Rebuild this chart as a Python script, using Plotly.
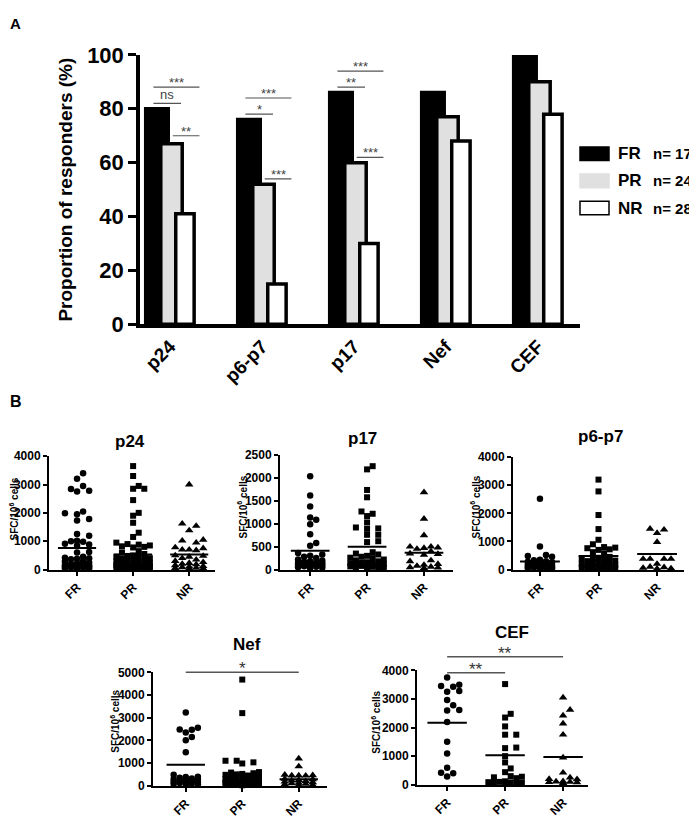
import numpy as np
import plotly.graph_objects as go

# page geometry: the browser body has an 8px margin, so the figure is offset by 8px
OX, OY = 8, 8
W, H = 688, 813
FONT = "Liberation Sans, Arial, Helvetica, sans-serif"

# ---------------- Panel A data ----------------
antigens = ["p24", "p6-p7", "p17", "Nef", "CEF"]
fr_pct = [80, 76, 86, 86, 100]
pr_pct = [67, 52, 60, 77, 90]
nr_pct = [41, 15, 30, 68, 78]
group_names = ["FR", "PR", "NR"]
group_n = [17, 24, 28]

# significance brackets in panel A
sigA_cat = [0, 0, 0, 1, 1, 1, 2, 2, 2]
sigA_g1 = [0, 0, 1, 0, 0, 1, 0, 0, 1]
sigA_g2 = [2, 1, 2, 2, 1, 2, 2, 1, 2]
sigA_y = [88, 82, 70, 84, 78, 54, 94, 88, 62]
sigA_lab = ["***", "ns", "**", "***", "*", "***", "***", "**", "***"]

# ---------------- Panel B data (SFC/10^6 cells) ----------------
p24_fr = [3400, 3200, 2950, 2840, 2780, 2750, 2050, 1990, 1950, 1780, 1730, 1250, 1190,
          1020, 1000, 980, 910, 880, 850, 620, 600, 450, 420, 400, 380, 360, 300, 280, 250,
          220, 200, 180, 160, 150, 130, 120, 110, 100, 90, 80, 70, 60, 50, 40, 30]
p24_pr = [3650, 3300, 2950, 2850, 2850, 2450, 2000, 1900, 1650, 1300, 1150, 950, 900, 880,
          850, 820, 800, 780, 650, 600, 550, 500, 480, 450, 420, 400, 380, 350, 320, 300,
          280, 260, 240, 220, 200, 180, 160, 150, 140, 120, 110, 100, 90, 80, 70, 60, 50,
          40, 30, 20]
p24_nr = [3000, 1620, 1540, 1380, 1050, 1020, 950, 780, 750, 700, 700, 680, 500, 480, 450,
          400, 350, 300, 260, 230, 200, 180, 150, 120, 100, 80, 60, 50, 40, 30]
p24_mean = [760, 534, 534]

p17_fr = [2040, 1620, 1380, 1140, 1090, 990, 770, 580, 520, 360, 330, 300, 280, 250, 220,
          200, 180, 170, 160, 150, 140, 130, 120, 110, 100, 90, 80, 70, 60, 50, 40, 30]
p17_pr = [2260, 2190, 1740, 1580, 1270, 1220, 1170, 1030, 920, 900, 890, 760, 760, 620, 600,
          380, 350, 330, 300, 280, 260, 250, 220, 200, 180, 160, 150, 140, 130, 120, 110,
          100, 90, 80, 70, 60, 50, 40, 30, 20]
p17_nr = [1690, 1110, 750, 500, 500, 480, 470, 450, 400, 350, 340, 320, 200, 180, 120, 100,
          80, 60, 50, 40, 30]
p17_mean = [411, 496, 368]

p6p7_fr = [2520, 820, 520, 480, 460, 350, 330, 300, 280, 260, 240, 220, 200, 180, 160, 150,
           130, 120, 100, 90, 80, 70, 60, 50, 40, 30]
p6p7_pr = [3200, 2780, 1940, 1440, 1060, 900, 800, 780, 760, 720, 700, 620, 580, 450, 420,
           400, 380, 350, 320, 300, 280, 250, 220, 200, 180, 160, 140, 120, 100, 90, 80, 70,
           60, 50, 40, 30]
p6p7_nr = [1450, 1420, 1300, 980, 380, 380, 380, 380, 200, 100, 80, 60, 40, 30]
p6p7_mean = [287, 483, 552]

nef_fr = [3230, 2560, 2480, 2470, 2350, 2150, 2000, 1470, 480, 400, 380, 350, 320, 300, 280,
          250, 220, 200, 180, 160, 140, 120, 100, 80, 60, 40]
nef_pr = [4680, 3200, 1100, 1100, 1030, 980, 600, 580, 550, 520, 500, 480, 450, 420, 400, 380,
          350, 330, 300, 280, 260, 240, 220, 200, 180, 160, 150, 140, 120, 100, 90, 80, 70,
          60, 50, 40, 30, 20]
nef_nr = [1200, 850, 480, 460, 450, 450, 440, 300, 280, 250, 230, 200, 180, 150, 120, 100, 80,
          60, 40, 30]
nef_mean = [923, 497, 284]

cef_fr = [3750, 3500, 3450, 3430, 3280, 3250, 2960, 2780, 2610, 2600, 2190, 1500, 1090, 590,
          420, 400, 290]
cef_pr = [3520, 2480, 2350, 2040, 1750, 1750, 1300, 1280, 1000, 780, 570, 440, 300, 280, 260,
          230, 120, 100, 90, 80, 70, 60, 50, 40]
cef_nr = [3050, 2620, 2420, 2140, 1750, 950, 420, 250, 200, 190, 120, 110, 100, 90, 80, 60]
cef_mean = [2169, 1028, 972]

# significance in panel B: (group1, group2, level, label)
nef_sig = [(0, 2, 5000, "*")]
cef_sig = [(0, 2, 4475, "**"), (0, 1, 3920, "**")]


def px2x(px):
    return (px - OX) / W


def py2y(py):
    return 1 - (py - OY) / H


fig = go.Figure()

# ---------------- Panel A ----------------
A_xpx = (140, 580)
A_ypx = (44, 322)
A_xr = (-0.326, 4.457)
bar_fill = ["black", "#e0e0e0", "white"]
bar_off = [-0.264, -0.10, 0.0625]
bar_w = [0.245, 0.233, 0.20]
cats = list(range(len(antigens)))
for vals, name, fill, off, w in zip([fr_pct, pr_pct, nr_pct], group_names, bar_fill, bar_off, bar_w):
    fig.add_trace(go.Bar(x=cats, y=vals, offset=off, width=w, name=name,
                         marker=dict(color=fill, line=dict(color="black", width=3.5)),
                         xaxis="x", yaxis="y", showlegend=False, cliponaxis=False))

shapes = []
annotations = []
start_off = [-0.18, 0.03, 0.03]
end_off = [0.0, 0.12, 0.32]
for c, g1, g2, yv, lab in zip(sigA_cat, sigA_g1, sigA_g2, sigA_y, sigA_lab):
    x0 = c + start_off[g1]
    x1 = c + end_off[g2]
    shapes.append(dict(type="line", xref="x", yref="y", x0=x0, x1=x1, y0=yv, y1=yv,
                       line=dict(color="#555555", width=1.2)))
    annotations.append(dict(xref="x", yref="y", x=(x0 + x1) / 2, y=yv, text=lab, showarrow=False,
                            xanchor="center", yanchor="bottom",
                            yshift=-5 if "*" in lab else -1,
                            font=dict(family=FONT, size=13, color="#444444")))

# legend (drawn manually)
leg_y = [146, 174, 202]
for i, (name, n) in enumerate(zip(group_names, group_n)):
    yc = leg_y[i]
    shapes.append(dict(type="rect", xref="paper", yref="paper",
                       x0=px2x(580), x1=px2x(609), y0=py2y(yc + 7), y1=py2y(yc - 7),
                       fillcolor=bar_fill[i],
                       line=dict(color="black" if i != 1 else "#e0e0e0", width=1.5)))
    annotations.append(dict(xref="paper", yref="paper", x=px2x(616), y=py2y(yc), text=name,
                            showarrow=False, xanchor="left", yanchor="middle",
                            font=dict(family=FONT, size=17, color="black", weight="bold")))
    annotations.append(dict(xref="paper", yref="paper", x=px2x(651), y=py2y(yc), text=f"n= {n}",
                            showarrow=False, xanchor="left", yanchor="middle",
                            font=dict(family=FONT, size=15, color="black", weight="bold")))

annotations.append(dict(xref="paper", yref="paper", x=px2x(66), y=py2y(183),
                        text="Proportion of responders (%)", textangle=-90, showarrow=False,
                        xanchor="center", yanchor="middle",
                        font=dict(family=FONT, size=19, color="black", weight="bold")))
annotations.append(dict(xref="paper", yref="paper", x=px2x(15), y=py2y(12), text="A",
                        showarrow=False, xanchor="center", yanchor="middle",
                        font=dict(family=FONT, size=15, color="black", weight="bold")))
annotations.append(dict(xref="paper", yref="paper", x=px2x(16), y=py2y(402), text="B",
                        showarrow=False, xanchor="center", yanchor="middle",
                        font=dict(family=FONT, size=16, color="black", weight="bold")))

layout = dict(
    xaxis=dict(domain=[px2x(A_xpx[0]), px2x(A_xpx[1])], range=list(A_xr), tickvals=cats,
               ticktext=antigens, tickangle=-45, showgrid=False, zeroline=False, showline=True,
               linewidth=3.5, linecolor="black", ticks="", anchor="y",
               tickfont=dict(family=FONT, size=19, color="black", weight="bold")),
    yaxis=dict(domain=[py2y(A_ypx[1]), py2y(A_ypx[0])], range=[0, 100], dtick=20,
               showgrid=False, zeroline=False, showline=True, linewidth=3.5, linecolor="black",
               ticks="outside", ticklen=8, tickwidth=3, tickcolor="black", anchor="x",
               tickfont=dict(family=FONT, size=22, color="black", weight="bold")),
)


# ---------------- Panel B ----------------
def swarm(vals, ppx, ppy, diam=6.4, max_px=18):
    vals = np.asarray(vals, float)
    order = np.argsort(vals)
    placed = []
    offs = np.zeros(len(vals))
    step = diam * 0.95
    cands = [0.0]
    k = 1
    while k * step <= max_px:
        cands += [k * step, -k * step]
        k += 1
    for i in order:
        y = vals[i] * ppy
        best, bestd = 0.0, -1.0
        for c in cands:
            d = min([np.hypot(c - px, y - py) for px, py in placed], default=1e9)
            if d >= diam:
                best, bestd = c, d
                break
            if d > bestd:
                best, bestd = c, d
        placed.append((best, y))
        offs[i] = best / ppx
    return offs


panels = [
    dict(title="p24", data=[p24_fr, p24_pr, p24_nr], mean=p24_mean, xpx=(49, 215), ypx=(458, 575),
         ymax=4000, dtick=1000, xr=(-0.5, 2.46), tpx=(130, 443), ytpx=(14, 513), sig=[]),
    dict(title="p17", data=[p17_fr, p17_pr, p17_nr], mean=p17_mean, xpx=(280, 453), ypx=(457, 575),
         ymax=2500, dtick=500, xr=(-0.53, 2.51), tpx=(362, 440), ytpx=(242, 511), sig=[]),
    dict(title="p6-p7", data=[p6p7_fr, p6p7_pr, p6p7_nr], mean=p6p7_mean, xpx=(513, 684),
         ypx=(459, 575), ymax=4000, dtick=1000, xr=(-0.46, 2.46), tpx=(600, 438),
         ytpx=(475, 511), sig=[]),
    dict(title="Nef", data=[nef_fr, nef_pr, nef_nr], mean=nef_mean, xpx=(153, 327), ypx=(681, 798),
         ymax=5000, dtick=1000, xr=(-0.58, 2.5), tpx=(247, 652), ytpx=(115, 732), sig=nef_sig),
    dict(title="CEF", data=[cef_fr, cef_pr, cef_nr], mean=cef_mean, xpx=(417, 588), ypx=(679, 797),
         ymax=4000, dtick=1000, xr=(-0.52, 2.43), tpx=(512, 640), ytpx=(376, 732), sig=cef_sig),
]

symbols = ["circle", "square", "triangle-up"]
msizes = [6.5, 6, 7.5]

for k, p in enumerate(panels, start=2):
    xa, ya = f"x{k}", f"y{k}"
    ppx = (p["xpx"][1] - p["xpx"][0]) / (p["xr"][1] - p["xr"][0])
    ppy = (p["ypx"][1] - p["ypx"][0]) / p["ymax"]
    for gi, vals in enumerate(p["data"]):
        offs = swarm(vals, ppx, ppy, diam=msizes[gi] * 0.98)
        fig.add_trace(go.Scatter(x=gi + offs, y=vals, mode="markers", xaxis=xa, yaxis=ya,
                                 marker=dict(symbol=symbols[gi], size=msizes[gi], color="black",
                                             line=dict(width=0)),
                                 cliponaxis=False, showlegend=False))
        m = p["mean"][gi]
        fig.add_trace(go.Scatter(x=[gi - 0.34, gi + 0.34], y=[m, m], mode="lines", xaxis=xa,
                                 yaxis=ya, line=dict(color="black", width=2),
                                 showlegend=False, hoverinfo="skip"))
    dom_y = [py2y(p["ypx"][1]), py2y(p["ypx"][0])]
    layout[f"xaxis{k}"] = dict(domain=[px2x(p["xpx"][0]), px2x(p["xpx"][1])], range=list(p["xr"]),
                               tickvals=[0, 1, 2], ticktext=group_names, tickangle=-45,
                               showgrid=False, zeroline=False, showline=True, linewidth=2,
                               linecolor="black", ticks="outside", ticklen=4, tickwidth=1.5,
                               tickcolor="black", anchor=ya,
                               tickfont=dict(family=FONT, size=12, color="black", weight="bold"))
    layout[f"yaxis{k}"] = dict(domain=dom_y, range=[0, p["ymax"]], dtick=p["dtick"],
                               showgrid=False, zeroline=False, showline=True, linewidth=2,
                               linecolor="black", ticks="outside", ticklen=4, tickwidth=2,
                               tickcolor="black", anchor=xa,
                               tickfont=dict(family=FONT, size=12, color="black", weight="bold"))
    annotations.append(dict(xref="paper", yref="paper", x=px2x(p["tpx"][0]), y=py2y(p["tpx"][1]),
                            text=p["title"], showarrow=False, xanchor="center", yanchor="middle",
                            font=dict(family=FONT, size=17, color="black", weight="bold")))
    annotations.append(dict(xref="paper", yref="paper", x=px2x(p["ytpx"][0]),
                            y=py2y(p["ytpx"][1]), text="SFC/10<sup>6</sup> cells", textangle=-90,
                            showarrow=False, xanchor="center", yanchor="middle",
                            font=dict(family=FONT, size=10, color="black", weight="bold")))
    for g1, g2, lvl, lab in p["sig"]:
        yp = dom_y[0] + (dom_y[1] - dom_y[0]) * lvl / p["ymax"]
        shapes.append(dict(type="line", xref=xa, yref="paper", x0=g1, x1=g2, y0=yp, y1=yp,
                           line=dict(color="#555555", width=1.5)))
        annotations.append(dict(xref=xa, yref="paper", x=(g1 + g2) / 2, y=yp, text=lab,
                                showarrow=False, xanchor="center", yanchor="bottom", yshift=-8,
                                font=dict(family=FONT, size=17, color="#333333")))

fig.update_layout(
    width=W, height=H, margin=dict(l=0, r=0, t=0, b=0),
    paper_bgcolor="white", plot_bgcolor="white", barmode="overlay",
    font=dict(family=FONT, color="black"),
    shapes=shapes, annotations=annotations, **layout,
)

fig.write_html("out.html")
